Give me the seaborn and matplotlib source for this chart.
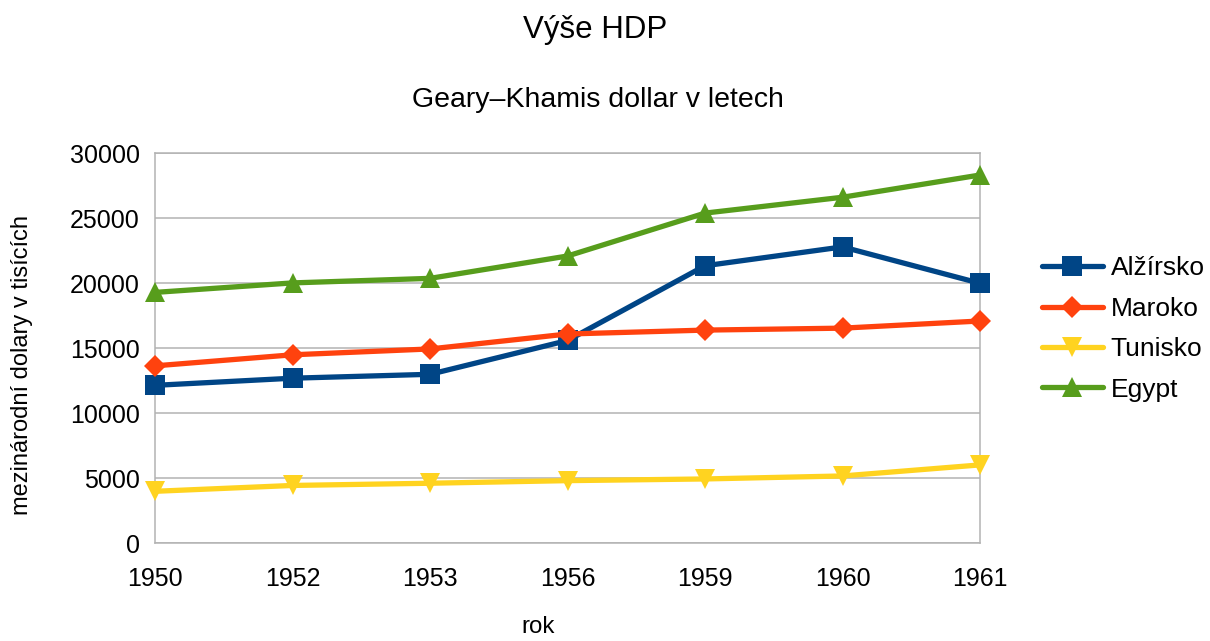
import numpy as np
import pandas as pd
import matplotlib
matplotlib.use("Agg")
import matplotlib.pyplot as plt
import seaborn as sns

years = ["1950", "1952", "1953", "1956", "1959", "1960", "1961"]
alzirsko = [12150, 12700, 13000, 15600, 21350, 22800, 20000]
maroko = [13650, 14500, 14950, 16100, 16400, 16550, 17100]
tunisko = [4000, 4450, 4620, 4820, 4950, 5180, 6030]
egypt = [19300, 20030, 20380, 22100, 25400, 26620, 28330]

series_names = ["Alžírsko", "Maroko", "Tunisko", "Egypt"]
series_values = [alzirsko, maroko, tunisko, egypt]
colors = ["#004586", "#ff420e", "#ffd320", "#579d1c"]
markers = ["s", "D", "v", "^"]
msizes = [14, 11.5, 15, 15]

rows = []
for name, vals in zip(series_names, series_values):
    for i, (yr, v) in enumerate(zip(years, vals)):
        rows.append({"pos": i, "rok": yr, "value": v, "země": name})
df = pd.DataFrame(rows)

sns.set_theme(style="white")
plt.rcParams["font.family"] = ["Liberation Sans", "DejaVu Sans"]
plt.rcParams["text.color"] = "black"
plt.rcParams["axes.labelcolor"] = "black"
plt.rcParams["xtick.color"] = "black"
plt.rcParams["ytick.color"] = "black"

fig = plt.figure(figsize=(12.10, 6.41), dpi=100)
ax = fig.add_axes([155/1210, 1-543.3/641, 825/1210, 390/641])

for name, col, mk, ms in zip(series_names, colors, markers, msizes):
    sub = df[df["země"] == name]
    sns.lineplot(data=sub, x="pos", y="value", color=col, marker=mk,
                 linewidth=3.8, markersize=ms, markeredgewidth=0,
                 ax=ax, legend=False, sort=False, clip_on=False)

ax.set_xlim(0, len(years) - 1)
ax.set_ylim(0, 30000)
ax.set_xticks(range(len(years)))
ax.set_xticklabels(years)
ax.set_yticks(np.arange(0, 30001, 5000))
ax.yaxis.grid(True, color="#b3b3b3", linewidth=1.1)
ax.xaxis.grid(False)
for s in ax.spines.values():
    s.set_color("#b3b3b3")
    s.set_linewidth(1.1)
    s.set_zorder(0.5)
ax.tick_params(axis="both", which="both", direction="out", length=5,
               width=1.1, color="#b3b3b3", labelsize=18, labelcolor="black")
ax.tick_params(axis="x", pad=12)
ax.tick_params(axis="y", pad=6)
ax.set_axisbelow(True)

ax.set_xlabel("rok", fontsize=17.3)
ax.xaxis.set_label_coords((538-155)/825, (543.3-627)/390)
ax.xaxis.label.set_va("center")
ax.set_ylabel("mezinárodní dolary v tisících", fontsize=17)
ax.yaxis.set_label_coords((22-155)/825, (543.3-365)/390)
ax.yaxis.label.set_va("center")

fig.text(595/1210, 1-30/641, "Výše HDP", ha="center", va="center", fontsize=22.5)
fig.text(598/1210, 1-100/641, "Geary–Khamis dollar v letech", ha="center", va="center", fontsize=20.5)

handles = [plt.Line2D([], [], color=c, marker=m, linewidth=3.8, markersize=ms,
                      markeredgewidth=0) for c, m, ms in zip(colors, markers, msizes)]
fig.legend(handles, series_names, loc="center left",
           bbox_to_anchor=(1042/1210, 1-329/641), frameon=False,
           fontsize=19, handlelength=2.3, handletextpad=0.3,
           labelspacing=0.62, borderaxespad=0, borderpad=0)

fig.savefig("out.png", dpi=100)
